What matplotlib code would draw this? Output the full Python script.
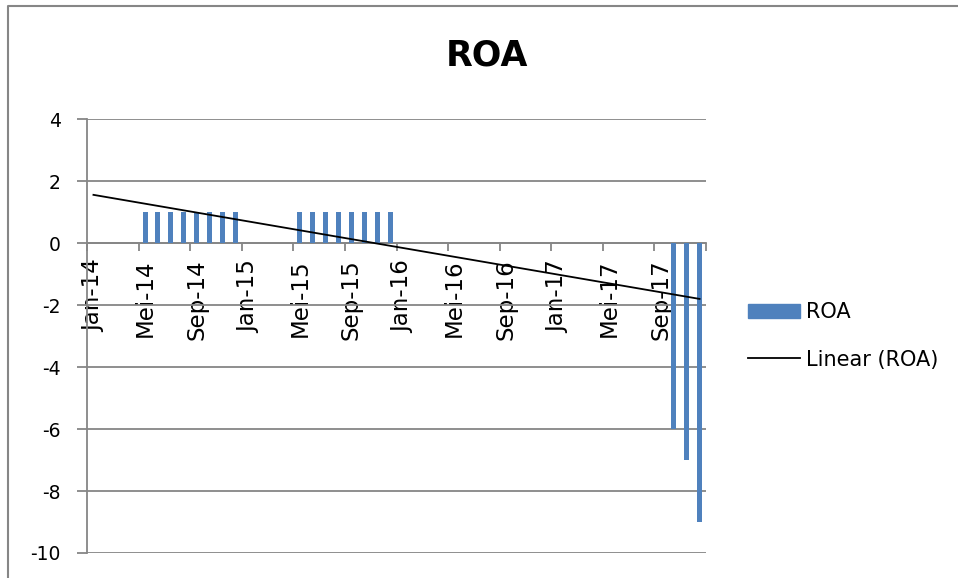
import numpy as np
import matplotlib.pyplot as plt
from matplotlib.lines import Line2D
from matplotlib.patches import Patch

plt.rcParams['font.family'] = ['DejaVu Sans']
plt.rcParams['axes.unicode_minus'] = False

# data
bulan = ['Jan', 'Feb', 'Mar', 'Apr', 'Mei', 'Jun', 'Jul', 'Agu', 'Sep', 'Okt', 'Nov', 'Des']
tahun = ['14', '15', '16', '17']
roa = [0, 0, 0, 0, 1, 1, 1, 1, 1, 1, 1, 1,
       0, 0, 0, 0, 1, 1, 1, 1, 1, 1, 1, 1,
       0, 0, 0, 0, 0, 0, 0, 0, 0, 0, 0, 0,
       0, 0, 0, 0, 0, 0, 0, 0, 0, -6, -7, -9]
yticks = [4, 2, 0, -2, -4, -6, -8, -10]

labels = [b + '-' + t for t in tahun for b in bulan]
x = np.arange(len(roa))

gray = '#868686'
blue = '#4F81BD'

fig = plt.figure(figsize=(9.58, 5.78), dpi=100)
ax = fig.add_axes([87/958, 1-553/578, 619/958, 434/578])

ax.bar(x, roa, width=0.39, color=blue, zorder=3)
# linear trend like excel
k, b = np.polyfit(x, roa, 1)
ends = x[[0, -1]]
ax.plot(ends, k*ends + b, color='black', lw=1.3, zorder=4)

ax.set_xlim(-0.5, len(roa) - 0.5)
ax.set_ylim(-10, 4)
ax.set_yticks(yticks)
ax.yaxis.grid(True, color=gray, lw=1.3)
ax.set_axisbelow(True)

ax.spines['top'].set_visible(False)
ax.spines['right'].set_visible(False)
ax.spines['left'].set_color(gray)
ax.spines['left'].set_linewidth(1.3)
ax.spines['bottom'].set_position(('data', 0))
ax.spines['bottom'].set_color(gray)
ax.spines['bottom'].set_linewidth(1.3)

ax.set_xticks(np.arange(-0.5, len(roa), 4), [''] * 13)
ax.set_xticks(x[::4], labels[::4], minor=True)
ax.tick_params(axis='x', which='major', length=6, width=1.3, color=gray)
ax.tick_params(axis='x', which='minor', length=0, pad=12, labelsize=16.5, labelrotation=90)
ax.tick_params(axis='y', length=7, width=1.3, color=gray, pad=12, labelsize=13.5)

handles = [Patch(color=blue, label='ROA'),
           Line2D([], [], color='black', lw=1.3, label='Linear (ROA)')]
fig.legend(handles=handles, loc='center left', bbox_to_anchor=(748/958, 1-336/578),
           frameon=False, fontsize=15, borderpad=0, borderaxespad=0,
           handlelength=2.5, handletextpad=0.3, labelspacing=1.3)

fig.text(487/958, 1-55/578, 'ROA', fontsize=25, weight='bold', ha='center', va='center')

# outer chart border
fig.add_artist(Line2D([8/958, 8/958, 1.01], [0, 1-6/578, 1-6/578],
                      transform=fig.transFigure, color=gray, lw=1.5))

fig.savefig('out.png', dpi=100)
